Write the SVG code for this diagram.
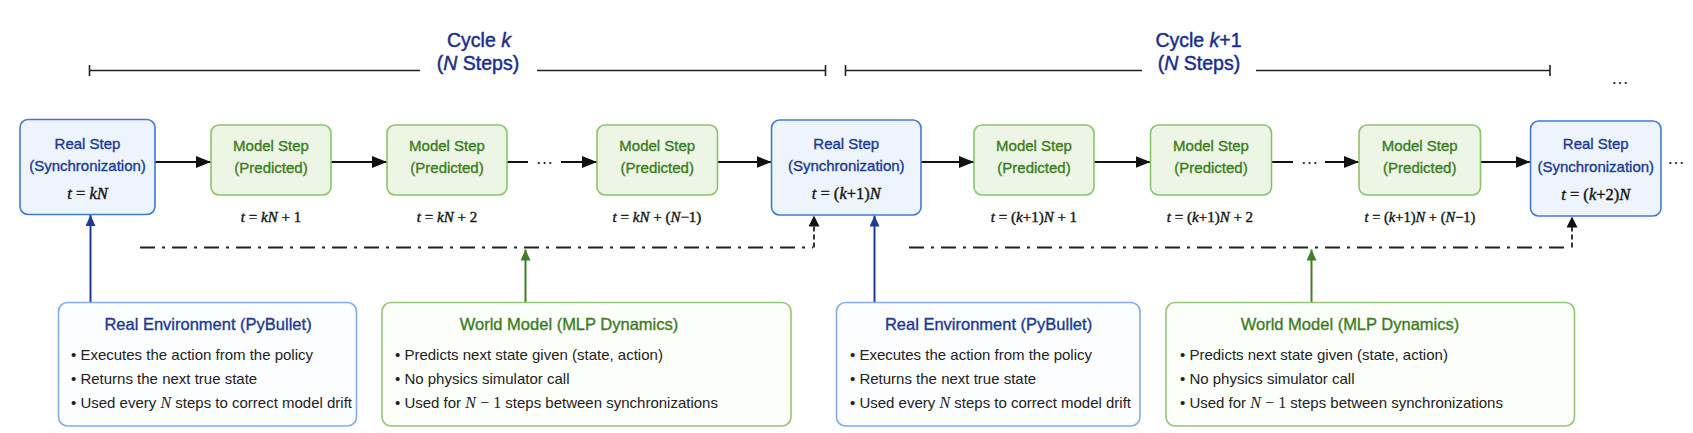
<svg xmlns="http://www.w3.org/2000/svg" width="1693" height="433" viewBox="0 0 1693 433">
<style>
  .sans { font-family: "Liberation Sans", Arial, sans-serif; }
  .serif { font-family: "Liberation Serif", "Times New Roman", serif; }
  .i { font-style: italic; }
  .cyc { font-family: "Liberation Sans", Arial, sans-serif; font-size: 19.5px; fill: #1a2d8c; stroke: #1a2d8c; stroke-width: 0.45; text-anchor: middle; }
  .real { fill: #eef4fc; stroke: #4379d6; stroke-width: 1.6; }
  .model { fill: #edf6e4; stroke: #8cc26a; stroke-width: 1.6; }
  .renv { fill: #fcfdff; stroke: #86aaea; stroke-width: 1.6; }
  .wm { fill: #fcfefa; stroke: #93c576; stroke-width: 1.6; }
  .hb { font-family: "Liberation Sans", Arial, sans-serif; font-size: 15px; fill: #1b3a93; stroke: #1b3a93; stroke-width: 0.35; text-anchor: middle; }
  .hg { font-family: "Liberation Sans", Arial, sans-serif; font-size: 15px; fill: #3b7d1f; stroke: #3b7d1f; stroke-width: 0.35; text-anchor: middle; }
  .tb { font-size: 16.5px; }
  .math { font-family: "Liberation Serif", "Times New Roman", serif; font-size: 15px; fill: #151515; stroke: #151515; stroke-width: 0.4; text-anchor: middle; }
  .mathin { font-size: 16.5px; }
  .bul { font-family: "Liberation Sans", Arial, sans-serif; font-size: 15px; fill: #222; }
  .bm { font-family: "Liberation Serif", "Times New Roman", serif; font-size: 16px; }
  .dots { font-family: "Liberation Sans", Arial, sans-serif; font-size: 18px; fill: #222; text-anchor: middle; }
  .arr { fill: none; stroke: #111; stroke-width: 2; }
  .up-b { fill: none; stroke: #1f3a93; stroke-width: 2; }
  .up-g { fill: none; stroke: #3f7f2a; stroke-width: 2; }
  .dd { fill: none; stroke: #222; stroke-width: 2; stroke-dasharray: 15 7 3 7; }
  .dv { fill: none; stroke: #222; stroke-width: 1.8; stroke-dasharray: 5 3; }
  .br { fill: none; stroke: #222; stroke-width: 1.6; }
</style>
<defs>
  <marker id="ah" markerUnits="userSpaceOnUse" markerWidth="15" markerHeight="12" refX="15" refY="6" orient="auto">
    <path d="M0,0 L15,6 L0,12 z" fill="#111"/>
  </marker>
  <marker id="ahb" markerUnits="userSpaceOnUse" markerWidth="11" markerHeight="10" refX="11" refY="5" orient="auto">
    <path d="M0,0 L11,5 L0,10 z" fill="#1f3a93"/>
  </marker>
  <marker id="ahg" markerUnits="userSpaceOnUse" markerWidth="11" markerHeight="10" refX="11" refY="5" orient="auto">
    <path d="M0,0 L11,5 L0,10 z" fill="#3f7f2a"/>
  </marker>
  <marker id="ahk" markerUnits="userSpaceOnUse" markerWidth="11" markerHeight="11" refX="11" refY="5.5" orient="auto">
    <path d="M0,0 L11,5.5 L0,11 z" fill="#111"/>
  </marker>
</defs>
<rect width="1693" height="433" fill="#ffffff"/>

<g id="cycle-k">
  <text class="cyc" x="479" y="47">Cycle <tspan class="i">k</tspan></text>
  <text class="cyc" x="478" y="70">(<tspan class="i">N</tspan> Steps)</text>
  <path class="br" d="M89.5,70.5 H420 M537,70.5 H825.5 M89.5,65 V76 M825.5,65 V76"/>
</g>
<g id="cycle-k1">
  <text class="cyc" x="1198.5" y="47">Cycle <tspan class="i">k</tspan>+1</text>
  <text class="cyc" x="1199" y="70">(<tspan class="i">N</tspan> Steps)</text>
  <path class="br" d="M845.5,70.5 H1142 M1256,70.5 H1550 M845.5,65 V76 M1550,65 V76"/>
</g>
<text class="dots" x="1620" y="84">…</text>

<g id="connectors">
  <path class="arr" d="M155,162 H211" marker-end="url(#ah)"/>
  <path class="arr" d="M331,162 H387" marker-end="url(#ah)"/>
  <path class="arr" d="M507,162 H528"/>
  <path class="arr" d="M561,162 H597" marker-end="url(#ah)"/>
  <path class="arr" d="M717.5,162 H771.5" marker-end="url(#ah)"/>
  <path class="arr" d="M921,162 H974" marker-end="url(#ah)"/>
  <path class="arr" d="M1094,162 H1150.5" marker-end="url(#ah)"/>
  <path class="arr" d="M1271.5,162 H1293"/>
  <path class="arr" d="M1325,162 H1359" marker-end="url(#ah)"/>
  <path class="arr" d="M1480.5,162 H1530.5" marker-end="url(#ah)"/>
  <text class="dots" x="544.5" y="163.5">…</text>
  <text class="dots" x="1309.5" y="163.5">…</text>
  <text class="dots" x="1676" y="163.5">…</text>

  <path class="dd" d="M140,247.5 H813"/>
  <path class="dv" d="M814,247.5 V215.5" marker-end="url(#ahk)"/>
  <path class="dd" d="M909,247.5 H1571"/>
  <path class="dv" d="M1572,247.5 V216.5" marker-end="url(#ahk)"/>

  <path class="up-b" d="M90.5,302.5 V215" marker-end="url(#ahb)"/>
  <path class="up-g" d="M525.5,302.5 V249.5" marker-end="url(#ahg)"/>
  <path class="up-b" d="M874.5,302.5 V215.5" marker-end="url(#ahb)"/>
  <path class="up-g" d="M1311.5,302.5 V249.5" marker-end="url(#ahg)"/>
</g>

<g id="real-step-1">
  <rect class="real" x="20" y="119.5" width="135" height="95" rx="8"/>
  <text class="hb" x="87.5" y="148.5">Real Step</text>
  <text class="hb" x="87.5" y="171">(Synchronization)</text>
  <text class="math mathin" x="87.5" y="198.5"><tspan class="i">t</tspan> = <tspan class="i">kN</tspan></text>
</g>
<g id="model-step-1">
  <rect class="model" x="211" y="125" width="120" height="70" rx="8"/>
  <text class="hg" x="271" y="150.5">Model Step</text>
  <text class="hg" x="271" y="172.5">(Predicted)</text>
  <text class="math" x="271" y="221.5"><tspan class="i">t</tspan> = <tspan class="i">kN</tspan> + 1</text>
</g>
<g id="model-step-2">
  <rect class="model" x="387" y="125" width="120" height="70" rx="8"/>
  <text class="hg" x="447" y="150.5">Model Step</text>
  <text class="hg" x="447" y="172.5">(Predicted)</text>
  <text class="math" x="447" y="221.5"><tspan class="i">t</tspan> = <tspan class="i">kN</tspan> + 2</text>
</g>
<g id="model-step-3">
  <rect class="model" x="597" y="125" width="120.5" height="70" rx="8"/>
  <text class="hg" x="657.25" y="150.5">Model Step</text>
  <text class="hg" x="657.25" y="172.5">(Predicted)</text>
  <text class="math" x="657" y="221.5"><tspan class="i">t</tspan> = <tspan class="i">kN</tspan> + (<tspan class="i">N</tspan>−1)</text>
</g>
<g id="real-step-2">
  <rect class="real" x="771.5" y="120" width="149.5" height="95" rx="8"/>
  <text class="hb" x="846.25" y="148.5">Real Step</text>
  <text class="hb" x="846.25" y="171">(Synchronization)</text>
  <text class="math mathin" x="846.25" y="199"><tspan class="i">t</tspan> = (<tspan class="i">k</tspan>+1)<tspan class="i">N</tspan></text>
</g>
<g id="model-step-4">
  <rect class="model" x="974" y="125" width="120" height="70" rx="8"/>
  <text class="hg" x="1034" y="150.5">Model Step</text>
  <text class="hg" x="1034" y="172.5">(Predicted)</text>
  <text class="math" x="1034" y="221.5"><tspan class="i">t</tspan> = (<tspan class="i">k</tspan>+1)<tspan class="i">N</tspan> + 1</text>
</g>
<g id="model-step-5">
  <rect class="model" x="1150.5" y="125" width="121" height="70" rx="8"/>
  <text class="hg" x="1211" y="150.5">Model Step</text>
  <text class="hg" x="1211" y="172.5">(Predicted)</text>
  <text class="math" x="1210" y="221.5"><tspan class="i">t</tspan> = (<tspan class="i">k</tspan>+1)<tspan class="i">N</tspan> + 2</text>
</g>
<g id="model-step-6">
  <rect class="model" x="1359" y="125" width="121.5" height="70" rx="8"/>
  <text class="hg" x="1419.75" y="150.5">Model Step</text>
  <text class="hg" x="1419.75" y="172.5">(Predicted)</text>
  <text class="math" x="1420" y="221.5" style="font-size:14.5px"><tspan class="i">t</tspan> = (<tspan class="i">k</tspan>+1)<tspan class="i">N</tspan> + (<tspan class="i">N</tspan>−1)</text>
</g>
<g id="real-step-3">
  <rect class="real" x="1530.5" y="121" width="130.5" height="95" rx="8"/>
  <text class="hb" x="1595.75" y="149">Real Step</text>
  <text class="hb" x="1595.75" y="171.5">(Synchronization)</text>
  <text class="math mathin" x="1595.75" y="200"><tspan class="i">t</tspan> = (<tspan class="i">k</tspan>+2)<tspan class="i">N</tspan></text>
</g>

<g id="real-env-1">
  <rect class="renv" x="58.5" y="302.5" width="298" height="123.5" rx="9"/>
  <text class="hb tb" x="208" y="330">Real Environment (PyBullet)</text>
  <text class="bul" x="71" y="360">• Executes the action from the policy</text>
  <text class="bul" x="71" y="384">• Returns the next true state</text>
  <text class="bul" x="71" y="408">• Used every <tspan class="bm i">N</tspan> steps to correct model drift</text>
</g>
<g id="world-model-1">
  <rect class="wm" x="382" y="302.5" width="409" height="123.5" rx="9"/>
  <text class="hg tb" x="569" y="330">World Model (MLP Dynamics)</text>
  <text class="bul" x="395" y="360">• Predicts next state given (state, action)</text>
  <text class="bul" x="395" y="384">• No physics simulator call</text>
  <text class="bul" x="395" y="408">• Used for <tspan class="bm i">N</tspan> <tspan class="bm">− 1</tspan> steps between synchronizations</text>
</g>
<g id="real-env-2">
  <rect class="renv" x="836.5" y="302.5" width="303.5" height="123.5" rx="9"/>
  <text class="hb tb" x="988.5" y="330">Real Environment (PyBullet)</text>
  <text class="bul" x="850" y="360">• Executes the action from the policy</text>
  <text class="bul" x="850" y="384">• Returns the next true state</text>
  <text class="bul" x="850" y="408">• Used every <tspan class="bm i">N</tspan> steps to correct model drift</text>
</g>
<g id="world-model-2">
  <rect class="wm" x="1166" y="302.5" width="408.5" height="123.5" rx="9"/>
  <text class="hg tb" x="1350" y="330">World Model (MLP Dynamics)</text>
  <text class="bul" x="1180" y="360">• Predicts next state given (state, action)</text>
  <text class="bul" x="1180" y="384">• No physics simulator call</text>
  <text class="bul" x="1180" y="408">• Used for <tspan class="bm i">N</tspan> <tspan class="bm">− 1</tspan> steps between synchronizations</text>
</g>
</svg>
